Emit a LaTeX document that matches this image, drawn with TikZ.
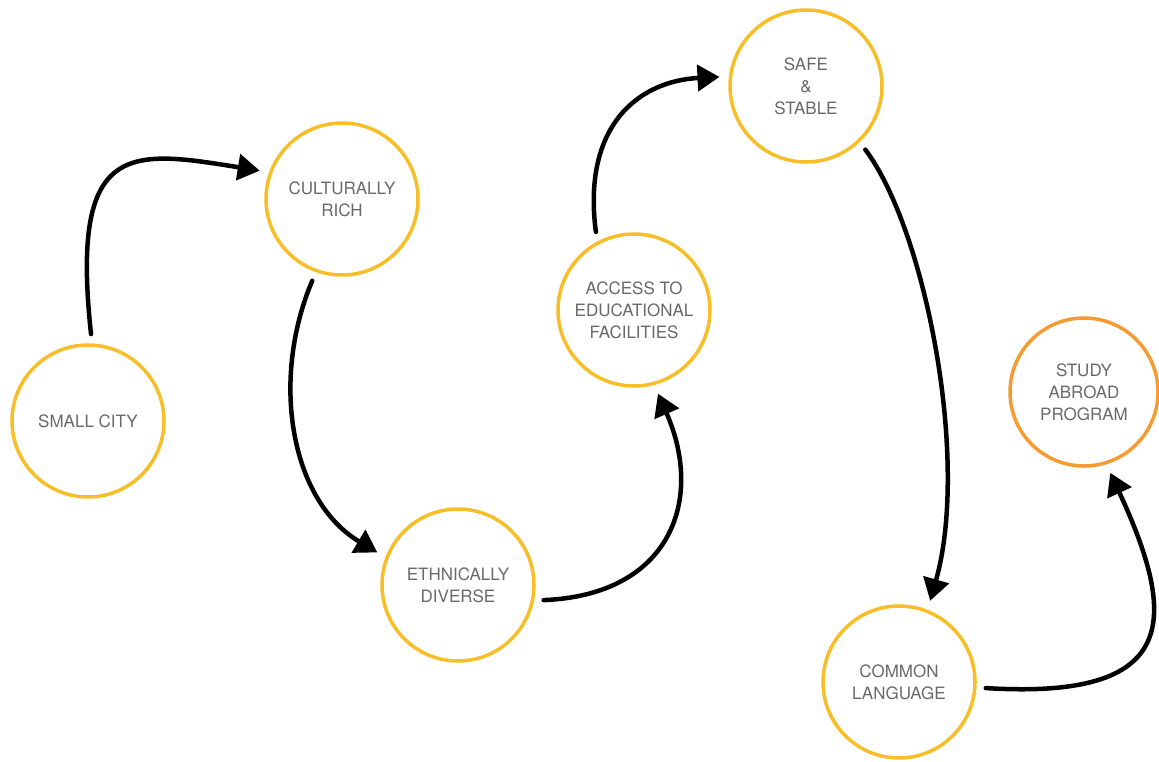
\documentclass[tikz,border=0pt]{standalone}
\usepackage{fontspec}
\setmainfont{TeX Gyre Heros}
\usepackage{tikz}
\usetikzlibrary{arrows.meta}
\definecolor{ringyellow}{RGB}{247, 190, 40}
\definecolor{ringorange}{RGB}{245, 155, 50}
\definecolor{labelgray}{RGB}{105, 105, 105}

\begin{document}
\begin{tikzpicture}[
    x=1pt, y=1pt,
    every node/.style={font=\fontsize{17}{22}\selectfont, text=labelgray},
    stopring/.style={circle, draw=ringyellow, line width=3.5pt, minimum size=152pt, inner sep=0pt, outer sep=11pt, align=center},
    goalring/.style={stopring, draw=ringorange, minimum size=148pt},
    arrow/.style={-{Triangle[length=22pt, width=26pt]}, line width=4.5pt, line cap=round, color=black}
]
\useasboundingbox (0,0) rectangle (1159,-761);

% Stops along the way
\node[stopring] (small) at (88,-421) {SMALL CITY};
\node[stopring] (cultural) at (342,-199) {CULTURALLY\\RICH};
\node[stopring] (diverse) at (458,-585) {ETHNICALLY\\DIVERSE};
\node[stopring] (access) at (634,-310) {ACCESS TO\\EDUCATIONAL\\FACILITIES};
\node[stopring] (safe) at (806,-86) {SAFE\\\&\\STABLE};
\node[stopring] (language) at (899,-682) {COMMON\\LANGUAGE};

% Goal
\node[goalring] (study) at (1084,-392) {STUDY\\ABROAD\\PROGRAM};

% Arrows
\draw[arrow] (small.88) .. controls +(-21,194) and +(-130,21) .. (cultural.161);
\draw[arrow] (cultural.250) .. controls +(-42,-99) and +(-87,52) .. (diverse.158);
\draw[arrow] (diverse.350) .. controls +(126,5) and +(47,-107) .. (access.286);
\draw[arrow] (access.116) .. controls +(-14,107) and +(-80,-4) .. (safe.174);
\draw[arrow] (safe.313) .. controls +(60,-80) and +(40,141) .. (language.69);
\draw[arrow] (language.356) .. controls +(194,-12) and +(68,-147) .. (study.288);

\end{tikzpicture}
\end{document}
